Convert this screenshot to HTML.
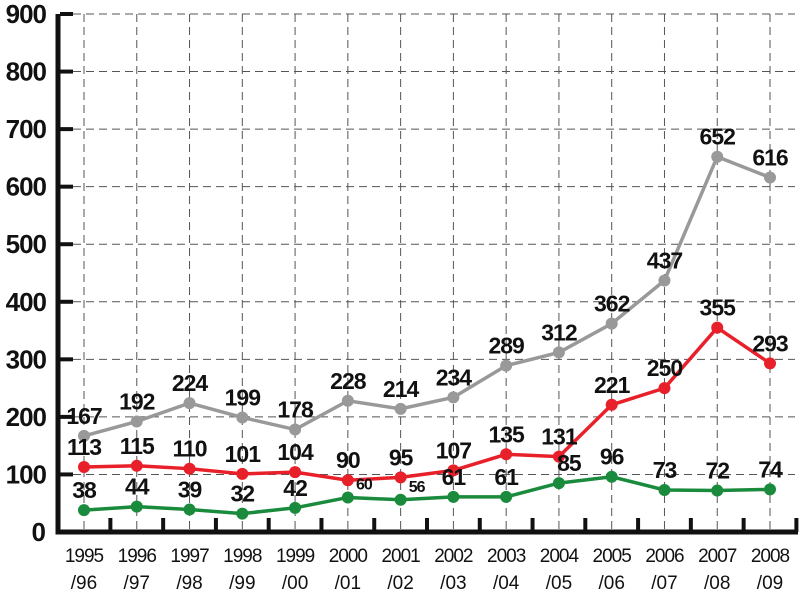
<!DOCTYPE html>
<html><head><meta charset="utf-8"><style>
html,body{margin:0;padding:0;background:#fff;}
svg{display:block;font-family:"Liberation Sans",sans-serif;}
</style></head><body>
<svg id="chart" width="800" height="600"></svg>
<script>
const categories=["1995/96","1996/97","1997/98","1998/99","1999/00","2000/01","2001/02","2002/03","2003/04","2004/05","2005/06","2006/07","2007/08","2008/09"];
const greySeries=[167,192,224,199,178,228,214,234,289,312,362,437,652,616];
const redSeries=[113,115,110,101,104,90,95,107,135,131,221,250,355,293];
const greenSeries=[38,44,39,32,42,60,56,61,61,85,96,73,72,74];
const yTicks=[0,100,200,300,400,500,600,700,800,900];
const NS="http://www.w3.org/2000/svg";
const svg=document.getElementById('chart');
const x0=84,dx=52.77,yBase=532,yTop=14;
const xs=i=>x0+i*dx;
const ys=v=>yBase-(v/900)*(yBase-yTop);
function mk(t,a){const e=document.createElementNS(NS,t);for(const k in a)e.setAttribute(k,a[k]);svg.appendChild(e);return e;}
// grid
yTicks.forEach(v=>{if(v===0)return;
const g=mk('line',{x1:60,x2:795,y1:ys(v),y2:ys(v),stroke:'#555','stroke-width':1,'stroke-dasharray':'8,5'});


const tk=mk('line',{x1:60,x2:73,y1:ys(v),y2:ys(v),stroke:'#111','stroke-width':4});


const t=mk('text',{x:46,y:ys(v)+9,'text-anchor':'end','font-size':26,'font-weight':'bold',fill:'#111','letter-spacing':'-1'});
t.textContent=v;


});
const z=mk('text',{x:46,y:yBase+9,'text-anchor':'end','font-size':26,'font-weight':'bold',fill:'#111'});z.textContent='0';


categories.forEach((c,i)=>{
const g=mk('line',{x1:xs(i),x2:xs(i),y1:yTop,y2:yBase,stroke:'#555','stroke-width':1,'stroke-dasharray':'8,5'});


const tk=mk('line',{x1:xs(i)+dx/2,x2:xs(i)+dx/2,y1:yBase-14,y2:yBase,stroke:'#111','stroke-width':4});


const p=c.split('/');
const t=mk('text',{x:xs(i),y:562,'text-anchor':'middle','font-size':19,fill:'#111','letter-spacing':'-1'});
t.textContent=p[0];


const t2=mk('text',{x:xs(i),y:589,'text-anchor':'middle','font-size':19,fill:'#111'});
t2.textContent='/'+p[1];


});
const ax=mk('path',{d:`M58,${yTop} V${yBase} H798`,fill:'none',stroke:'#111','stroke-width':5});


function series(vals,color,name){
const pl=mk('polyline',{points:vals.map((v,i)=>xs(i)+','+ys(v)).join(' '),fill:'none',stroke:color,'stroke-width':3.5});


vals.forEach((v,i)=>{
const c=mk('circle',{cx:xs(i),cy:ys(v),r:6,fill:color});


const small=name==='green'&&(i===5||i===6);
const right=small||(name==='green'&&i===9);
const t=mk('text',{x:xs(i)+(right?(small?16:10):0),y:ys(v)-(small?8:12),'text-anchor':'middle','font-size':small?16:23,'font-weight':'bold',fill:'#111','letter-spacing':'-1'});
t.textContent=v;


});
}
series(greySeries,'#999','grey');
series(redSeries,'#e8202a','red');
series(greenSeries,'#1a8a3c','green');
</script>
</body></html>
